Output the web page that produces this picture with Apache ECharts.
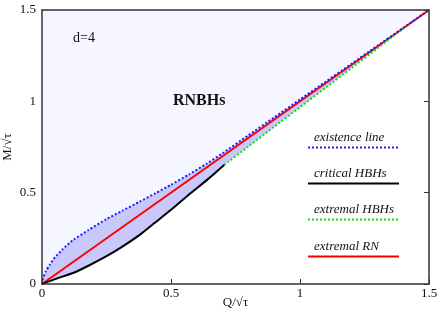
<!DOCTYPE html>
<html><head><meta charset="utf-8">
<script src="https://cdn.jsdelivr.net/npm/echarts@6/dist/echarts.min.js"></script>
<style>html,body{margin:0;padding:0;background:#fff}#c{width:445px;height:312px}</style>
</head><body><div id="c"></div>
<script>
// ---- data ----
const xTicks = [0, 0.5, 1, 1.5];
const yTicks = [0, 0.5, 1, 1.5];
const existQ = [0, 0.004, 0.015, 0.03, 0.05, 0.08, 0.12, 0.18, 0.25, 0.31, 0.38, 0.44, 0.5, 0.57, 0.64, 0.7, 0.8, 0.9, 1.0, 1.1, 1.2, 1.3, 1.4, 1.5];
const existM = [0, 0.03, 0.07, 0.105, 0.145, 0.19, 0.24, 0.295, 0.355, 0.4, 0.452, 0.497, 0.543, 0.6, 0.66, 0.716, 0.814, 0.912, 1.01, 1.108, 1.206, 1.304, 1.402, 1.5];
const critQ = [0, 0.05, 0.12, 0.18, 0.25, 0.31, 0.38, 0.44, 0.5, 0.57, 0.64, 0.707];
const critM = [0, 0.027, 0.06, 0.1, 0.152, 0.203, 0.27, 0.338, 0.406, 0.49, 0.57, 0.653];
const extHQ = [0.707, 0.8, 0.9, 1.0, 1.1, 1.2, 1.3, 1.41];
const extHM = [0.653, 0.753, 0.861, 0.968, 1.075, 1.183, 1.29, 1.41];
const rnQ = [0, 1.5];
const rnM = [0, 1.5];
const legendNames = ['existence line', 'critical HBHs', 'extremal HBHs', 'extremal RN'];

const zip = (a, b) => a.map((v, i) => [v, b[i]]);
const exist = zip(existQ, existM);
const crit = zip(critQ, critM);
const extH = zip(extHQ, extHM);
const rn = zip(rnQ, rnM);
// lower boundary of the HBH domain: critical line, then extremal HBHs, then RN to the corner
const bound = crit.concat(extH.slice(1), [rn[rn.length - 1]]);

const BLUE = '#1f1fff', GREEN = '#11e011', RED = '#ff0000', BLACK = '#000000';
const LIGHT = '#f5f6ff', MED = '#c8c8fb';
const FONT = 'Liberation Serif';

const chart = echarts.init(document.getElementById('c'), null, {renderer: 'canvas'});
const axisCommon = {
  type: 'value', min: 0, max: 1.5, interval: 0.5, z: 10,
  axisLine: {show: true, onZero: false, lineStyle: {color: '#333', width: 1.5}},
  splitLine: {show: false}
};
const lineSeries = (data, color, width, type, z, smooth) => ({
  type: 'line', data, showSymbol: false, symbol: 'none', z, smooth: smooth || false,
  lineStyle: {color, width, type}, silent: true, animation: false
});
const fillSeries = (data, color, origin, z, smooth) => ({
  type: 'line', data, showSymbol: false, symbol: 'none', z, smooth: smooth || false,
  lineStyle: {width: 0, opacity: 0}, areaStyle: {color, opacity: 1, origin}, silent: true, animation: false
});

// legend graphics
const legTop = [139, 175, 211, 248];
const legStyles = [
  {stroke: BLUE, lineDash: [2, 2]},
  {stroke: BLACK, lineDash: null},
  {stroke: GREEN, lineDash: [2, 2]},
  {stroke: RED, lineDash: null}
];
const graphics = [];
legendNames.forEach((n, i) => {
  graphics.push({type: 'text', left: 314, top: legTop[i] - 8, z: 20,
    style: {text: n, font: 'italic 13px "Liberation Serif"', fill: '#111'}});
  graphics.push({type: 'line', z: 20,
    shape: {x1: 308, y1: legTop[i] + 8.5, x2: 399, y2: legTop[i] + 8.5},
    style: Object.assign({lineWidth: 2}, legStyles[i])});
});
graphics.push({type: 'text', left: 73, top: 31, z: 20,
  style: {text: 'd=4', font: '14px "Liberation Serif"', fill: '#111'}});
graphics.push({type: 'text', left: 173, top: 93, z: 20,
  style: {text: 'RNBHs', font: 'bold 16px "Liberation Serif"', fill: '#111'}});

chart.setOption({
  animation: false,
  backgroundColor: '#fff',
  grid: {left: 42, right: 16, top: 10, bottom: 28, containLabel: false, outerBoundsMode: 'none'},
  xAxis: [
    Object.assign({}, axisCommon, {
      position: 'bottom', name: 'Q/√τ', nameLocation: 'middle', nameGap: 12, nameMoveOverlap: false,
      nameTextStyle: {fontFamily: FONT, fontSize: 13, color: '#111'},
      axisTick: {show: true, inside: true, length: 5, lineStyle: {color: '#333'}},
      axisLabel: {fontFamily: FONT, fontSize: 13, color: '#111', margin: 3,
        formatter: v => xTicks.includes(v) ? String(v) : ''}
    }),
    Object.assign({}, axisCommon, {
      position: 'top', axisTick: {show: false}, axisLabel: {show: false}
    })
  ],
  yAxis: [
    Object.assign({}, axisCommon, {
      position: 'left', name: 'M/√τ', nameLocation: 'middle', nameGap: 28, nameRotate: 90, nameMoveOverlap: false,
      nameTextStyle: {fontFamily: FONT, fontSize: 13, color: '#111'},
      axisTick: {show: false},
      axisLabel: {fontFamily: FONT, fontSize: 13, color: '#111', margin: 6,
        formatter: v => yTicks.includes(v) ? String(v) : ''}
    }),
    Object.assign({}, axisCommon, {
      position: 'right', axisTick: {show: true, inside: true, length: 5, lineStyle: {color: '#333'}},
      axisLabel: {show: false}
    })
  ],
  graphic: graphics,
  series: [
    fillSeries(exist, LIGHT, 'end', 1, 0.2),
    fillSeries(exist, MED, 'start', 1, 0.2),
    fillSeries(bound, '#ffffff', 'start', 1, 0.2),
    lineSeries(rn, RED, 2, 'solid', 3),
    lineSeries(crit, BLACK, 2, 'solid', 3, 0.2),
    lineSeries(extH, GREEN, 2, [2, 2], 3, 0.2),
    lineSeries(exist, BLUE, 2, [2, 2], 4, 0.2)
  ]
});
</script></body></html>
